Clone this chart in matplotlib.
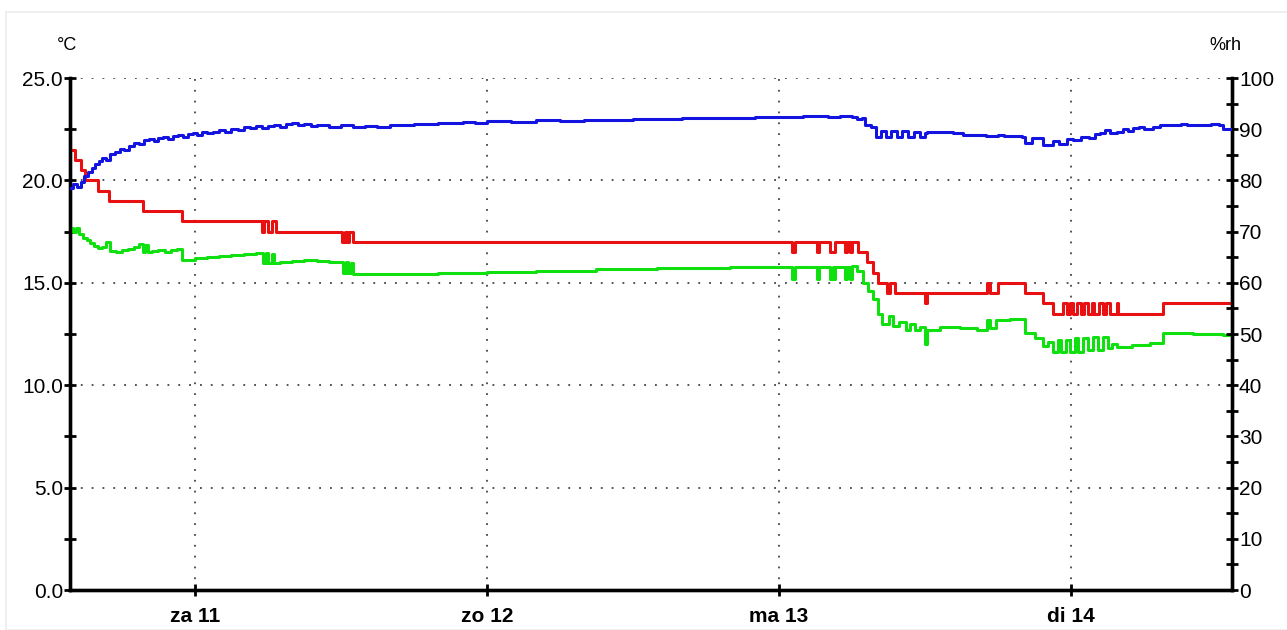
import matplotlib.pyplot as plt
from matplotlib.patches import Rectangle
from matplotlib.ticker import MultipleLocator, FormatStrFormatter

plt.rcParams['font.family'] = ['Liberation Sans', 'DejaVu Sans']

# hours since za 11 00:00
day_ticks = [0, 24, 48, 72]
day_labels = ['za 11', 'zo 12', 'ma 13', 'di 14']
t_start, t_end = -10.27, 85.23

# temperature (red, °C)
red_h = [-10.3, -9.9, -9.4, -9.0, -8.0, -7.1, -4.3, -1.1,
         5.5, 5.7, 6.0, 6.3, 6.7, 12.1, 12.3, 12.5, 12.7, 13.0,
         49.1, 49.3, 51.1, 51.3, 52.2, 52.6, 53.4, 53.6, 53.8, 54.0,
         54.5, 55.2, 55.7, 56.1, 56.9, 57.1, 57.5, 60.0, 60.2,
         65.1, 65.3, 66.0, 68.2, 69.7, 70.5,
         71.3, 71.7, 71.9, 72.2, 72.5, 72.8, 73.1, 73.4, 73.7, 73.9,
         74.3, 74.6, 74.9, 75.2, 75.8, 75.9, 79.6, 85.23]
red_v = [21.5, 21.0, 20.5, 20.0, 19.5, 19.0, 18.5, 18.0,
         17.5, 18.0, 17.5, 18.0, 17.5, 17.0, 17.5, 17.0, 17.5, 17.0,
         16.5, 17.0, 16.5, 17.0, 16.5, 17.0, 16.5, 17.0, 16.5, 17.0,
         16.5, 16.0, 15.5, 15.0, 14.5, 15.0, 14.5, 14.0, 14.5,
         15.0, 14.5, 15.0, 14.5, 14.0, 13.5,
         14.0, 13.5, 14.0, 13.5, 14.0, 13.5, 14.0, 13.5, 14.0, 13.5,
         14.0, 13.5, 14.0, 13.5, 14.0, 13.5, 14.0, 14.0]

# dew point (green, °C)
green_h = [-10.3, -10.0, -9.8, -9.5, -9.2, -8.9, -8.6, -8.3, -8.0, -7.6,
           -7.3, -7.0, -6.5, -6.0, -5.5, -5.0, -4.6, -4.27, -4.1, -3.9,
           -3.5, -3.0, -2.5, -2.0, -1.5, -1.07, 0.0, 1.0, 2.0, 3.0,
           4.0, 5.0, 5.6, 5.8, 6.0, 6.3, 6.5, 7.0, 8.0, 9.0,
           10.0, 11.0, 12.2, 12.4, 12.6, 12.8, 13.0, 16.0, 20.0, 24.0,
           28.0, 33.0, 38.0, 44.0, 48.0, 49.1, 49.3, 51.1, 51.3, 52.2,
           52.4, 52.5, 52.6, 53.4, 53.6, 53.8, 54.0, 54.4, 54.9, 55.3,
           55.7, 56.1, 56.5, 57.0, 57.4, 57.9, 58.4, 58.8, 59.2, 59.6,
           60.0, 60.2, 61.2, 62.9, 64.3, 65.1, 65.3, 65.8, 67.0, 68.2,
           69.0, 69.7, 70.1, 70.5, 70.9, 71.2, 71.6, 71.9, 72.3, 72.6,
           73.0, 73.4, 73.8, 74.2, 74.6, 75.0, 75.4, 75.8, 77.0, 78.5,
           79.6, 82.0, 84.5, 85.23]
green_v = [17.7, 17.5, 17.7, 17.4, 17.2, 17.1, 16.95, 16.8, 16.7, 16.75,
           17.0, 16.55, 16.5, 16.6, 16.65, 16.75, 16.9, 16.5, 16.85, 16.5,
           16.55, 16.6, 16.5, 16.6, 16.65, 16.1, 16.2, 16.25, 16.3, 16.35,
           16.4, 16.45, 15.95, 16.45, 15.95, 16.4, 15.95, 16.0, 16.05, 16.1,
           16.05, 16.0, 15.5, 16.0, 15.5, 15.95, 15.45, 15.45, 15.5, 15.55,
           15.6, 15.65, 15.7, 15.75, 15.75, 15.2, 15.75, 15.2, 15.75, 15.2,
           15.75, 15.2, 15.75, 15.2, 15.75, 15.2, 15.8, 15.6, 15.0, 14.6,
           14.2, 13.5, 13.0, 13.4, 12.9, 13.1, 12.7, 13.0, 12.7, 12.85,
           12.0, 12.7, 12.85, 12.8, 12.7, 13.2, 12.8, 13.2, 13.25, 12.55,
           12.3, 11.9, 12.1, 11.6, 12.2, 11.6, 12.2, 11.6, 12.3, 11.6,
           12.3, 11.7, 12.35, 11.7, 12.35, 11.8, 12.0, 11.85, 11.95, 12.05,
           12.55, 12.5, 12.45, 12.45]

# relative humidity (blue, %rh)
blue_h = [-10.3, -10.0, -9.7, -9.4, -9.1, -8.8, -8.5, -8.2, -7.9, -7.6,
          -7.3, -7.0, -6.6, -6.2, -5.8, -5.4, -5.0, -4.6, -4.2, -3.8,
          -3.4, -3.0, -2.6, -2.2, -1.8, -1.4, -1.0, -0.6, -0.2, 0.2,
          0.6, 1.0, 1.5, 2.0, 2.5, 3.0, 3.5, 4.0, 4.5, 5.0,
          5.5, 6.0, 6.5, 7.0, 7.5, 8.0, 8.5, 9.0, 9.5, 10.0,
          11.0, 12.0, 13.0, 14.0, 15.0, 16.0, 17.0, 18.0, 19.0, 20.0,
          21.0, 22.0, 23.0, 24.0, 26.0, 28.0, 30.0, 32.0, 34.0, 36.0,
          38.0, 40.0, 42.0, 44.0, 46.0, 48.0, 50.0, 52.0, 53.0, 54.0,
          54.4, 54.8, 55.1, 55.6, 56.0, 56.4, 56.8, 57.2, 57.7, 58.1,
          58.6, 59.1, 59.6, 60.0, 60.2, 62.3, 63.1, 65.0, 66.0, 66.5,
          68.0, 68.2, 68.8, 69.7, 70.5, 71.0, 71.7, 72.2, 72.8, 73.5,
          74.0, 74.4, 74.8, 75.2, 75.8, 76.3, 76.7, 77.1, 77.6, 78.0,
          78.7, 79.3, 81.0, 81.5, 82.6, 83.5, 84.2, 84.5, 85.23]
blue_v = [78.5, 79.2, 78.8, 79.6, 80.8, 81.6, 82.4, 83.2, 83.8, 84.4,
          84.0, 85.2, 85.6, 86.2, 86.0, 86.8, 87.4, 87.2, 87.8, 88.0,
          87.7, 88.3, 88.4, 88.1, 88.7, 88.9, 88.5, 89.0, 89.2, 88.8,
          89.4, 89.2, 89.5, 89.8, 89.4, 90.1, 89.9, 90.4, 90.2, 90.6,
          90.3, 90.7, 90.9, 90.5, 91.1, 91.3, 90.9, 91.1, 90.6, 90.8,
          90.5, 90.8, 90.4, 90.7, 90.5, 90.8, 90.9, 91.1, 91.0, 91.3,
          91.2, 91.5, 91.3, 91.6, 91.5, 91.7, 91.6, 91.8, 91.7, 92.0,
          91.9, 92.1, 92.2, 92.1, 92.3, 92.4, 92.5, 92.3, 92.5, 92.3,
          92.0, 92.2, 90.8, 90.5, 88.4, 89.6, 88.5, 89.7, 88.4, 89.6,
          88.4, 89.5, 88.5, 89.3, 89.5, 89.2, 88.9, 88.7, 88.9, 88.6,
          88.4, 87.4, 88.2, 86.9, 87.6, 87.2, 88.1, 87.8, 88.5, 88.3,
          89.0, 89.2, 89.8, 89.2, 89.5, 90.1, 89.6, 90.2, 90.5, 90.0,
          90.5, 90.8, 91.0, 90.8, 90.8, 91.0, 90.8, 90.1, 90.1]

W, H = 1287, 630
fig = plt.figure(figsize=(W / 100, H / 100), dpi=100)
fig.patches.append(Rectangle((6 / W, 0), 1, 1 - 12 / H, transform=fig.transFigure,
                             fill=False, edgecolor='#ececec', lw=1.2))
ax = fig.add_axes([70 / W, 1 - 590 / H, (1232 - 70) / W, (590 - 78) / H])
ax2 = ax.twinx()

dots = (0, (1, 5))
for y in [5, 10, 15, 20, 25]:
    ax.axhline(y, color='#444444', lw=1.3, ls=dots, zorder=0)
for x in day_ticks:
    ax.axvline(x, color='#444444', lw=1.3, ls=dots, zorder=0)

ax.step(red_h, red_v, where='post', color='#e81010', lw=2.2, zorder=3)
ax.step(green_h, green_v, where='post', color='#10e010', lw=2.2, zorder=3)
ax2.step(blue_h, blue_v, where='post', color='#1414e0', lw=2.2, zorder=3)

ax.set_xlim(t_start, t_end)
ax.set_ylim(0, 25)
ax2.set_ylim(0, 100)

ax.yaxis.set_major_locator(MultipleLocator(5))
ax.yaxis.set_minor_locator(MultipleLocator(2.5))
ax.yaxis.set_major_formatter(FormatStrFormatter('%.1f'))
ax2.yaxis.set_major_locator(MultipleLocator(10))
ax2.yaxis.set_minor_locator(MultipleLocator(5))

ax.set_xticks(day_ticks)
ax.set_xticklabels(day_labels, fontweight='bold')

for a in (ax, ax2):
    a.spines['top'].set_visible(False)
    for s in ('left', 'right', 'bottom'):
        a.spines[s].set_linewidth(2.4)
        a.spines[s].set_color('black')
    a.tick_params(axis='both', which='both', direction='inout', width=2,
                  labelsize=15, colors='black')
    a.tick_params(which='major', length=8)
    a.tick_params(which='minor', length=8)
    a.set_facecolor('none')
ax.tick_params(axis='y', pad=1)
ax2.tick_params(axis='y', pad=1)
ax.tick_params(axis='x', pad=8)

fig.text(57 / W, 1 - 45 / H, '°C', fontsize=13, ha='left', va='center')
fig.text(1241 / W, 1 - 45 / H, '%rh', fontsize=13, ha='right', va='center')

fig.savefig('out.png', dpi=100)
